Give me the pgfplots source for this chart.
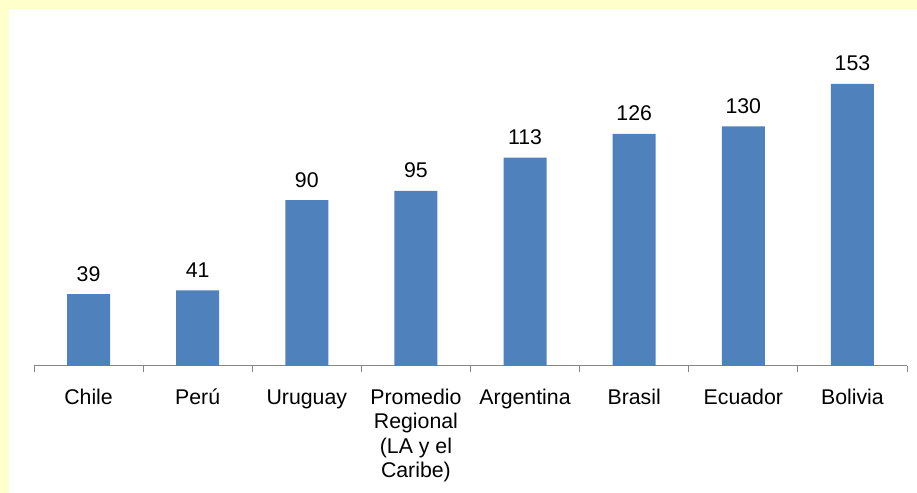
\documentclass[border=0pt]{standalone}
\usepackage{pgfplots}
\pgfplotsset{compat=1.18}
\usepackage{fontspec}
\setmainfont{Liberation Sans}
\definecolor{bg}{HTML}{FFFFCC}
\definecolor{barblue}{HTML}{4F81BD}
\definecolor{axisgray}{HTML}{868686}
\begin{document}
\begin{tikzpicture}
\fill[bg] (0bp,0bp) rectangle (917bp,493bp);
\fill[white] (9bp,0bp) rectangle (917bp,484bp);
\path[use as bounding box] (0bp,0bp) rectangle (917bp,493bp);
\begin{axis}[
  at={(34bp,127bp)}, anchor=south west,
  scale only axis, width=873bp, height=294.9bp,
  xmin=-0.5, xmax=7.5, ymin=0, ymax=160,
  axis x line*=bottom, axis y line=none,
  axis line style={axisgray, line width=1bp},
  /pgf/number format/assume math mode=true,
  xtick={0,...,7},
  xticklabels={{\strut Chile},{\strut Perú},{\strut Uruguay},{\strut Promedio\\Regional\\(LA y el\\Caribe)},{\strut Argentina},{\strut Brasil},{\strut Ecuador},{\strut Bolivia}},
  major tick length=0pt,
  minor xtick={-0.5,0.5,...,7.5},
  minor tick length=6bp,
  xtick align=outside,
  minor tick style={axisgray, line width=1bp},
  xticklabel style={anchor=north, inner sep=0pt, yshift=-20.85bp, align=center, font=\fontsize{21.3bp}{24.5bp}\selectfont},
  ytick=\empty,
  ybar, bar width=43bp,
  nodes near coords,
  every node near coord/.append style={anchor=base, inner sep=0pt, yshift=13bp, font=\fontsize{21.3bp}{24.5bp}\selectfont, text=black},
  clip=false,
]
\addplot[fill=barblue, draw=none] coordinates {(0,39) (1,41) (2,90) (3,95) (4,113) (5,126) (6,130) (7,153)};
\end{axis}
\end{tikzpicture}
\end{document}
